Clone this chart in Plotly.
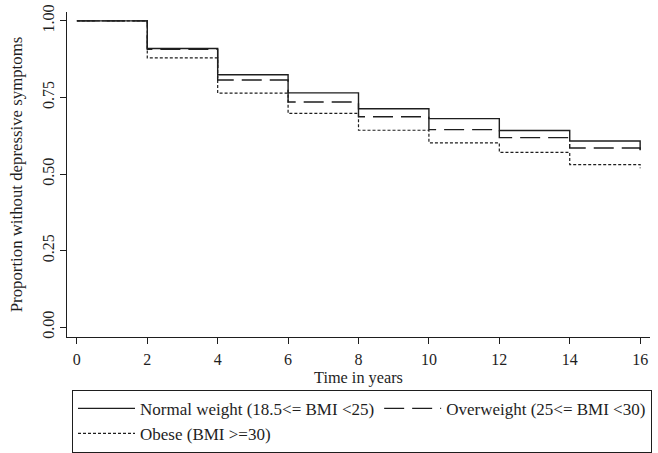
import plotly.graph_objects as go

years = [0, 2, 4, 6, 8, 10, 12, 14, 16]
normal = [1.0, 0.910, 0.824, 0.765, 0.713, 0.681, 0.642, 0.608, 0.578]
overweight = [1.0, 0.907, 0.807, 0.735, 0.687, 0.645, 0.619, 0.585, 0.563]
obese = [1.0, 0.879, 0.764, 0.698, 0.643, 0.602, 0.571, 0.531, 0.519]

names = ["Normal weight (18.5<= BMI <25)", "Overweight (25<= BMI <30)", "Obese (BMI >=30)"]
x_ticks = [0, 2, 4, 6, 8, 10, 12, 14, 16]
y_ticks = [0.0, 0.25, 0.5, 0.75, 1.0]
y_ticklabels = ["0.00", "0.25", "0.50", "0.75", "1.00"]

font = "Liberation Serif, Times New Roman, serif"
ink = "#1e1e1e"

W, H = 658, 453
AX_L, AX_R = 67, 650

fig = go.Figure()
fig.add_trace(go.Scatter(x=years, y=normal, mode="lines", line_shape="hv",
                         name=names[0], line=dict(color=ink, width=1.4, dash="solid")))
fig.add_trace(go.Scatter(x=years, y=overweight, mode="lines", line_shape="hv",
                         name=names[1], line=dict(color=ink, width=1.4, dash="20px,8px")))
fig.add_trace(go.Scatter(x=years, y=obese, mode="lines", line_shape="hv",
                         name=names[2], line=dict(color=ink, width=1.2, dash="3px,2px")))

fig.update_layout(
    width=W, height=H,
    margin=dict(l=0, r=0, t=12, b=109),
    paper_bgcolor="white", plot_bgcolor="white",
    font=dict(family=font, size=16, color=ink),
    showlegend=True,
    hovermode=False,
    legend=dict(
        orientation="h", x=72 / W, xanchor="left", y=-0.1625, yanchor="top",
        bordercolor=ink, borderwidth=1, bgcolor="white",
        font=dict(family=font, size=17, color=ink),
        itemwidth=57, traceorder="normal",
    ),
    xaxis=dict(
        domain=[AX_L / W, AX_R / W],
        range=[-0.28, 16.28], tickvals=x_ticks, ticks="outside", ticklen=6,
        tickcolor=ink, showline=True, linecolor=ink, linewidth=1, showgrid=False,
        zeroline=False, tickfont=dict(size=16), automargin=False, ticklabelstandoff=2,
        title=dict(text="Time in years", font=dict(size=16.3), standoff=0),
    ),
    yaxis=dict(
        range=[-0.032, 1.029], tickvals=y_ticks, ticktext=y_ticklabels, ticks="outside",
        ticklen=6, tickcolor=ink, showline=True, linecolor=ink, linewidth=1,
        showgrid=False, zeroline=False, tickangle=-90, tickfont=dict(size=16),
        automargin=False, ticklabeloverflow="allow",
        title=dict(text="Proportion without depressive symptoms", font=dict(size=16.8), standoff=12),
    ),
)

fig.write_html("out.html", config={"displayModeBar": False},
               post_script="document.body.style.margin='0';")
